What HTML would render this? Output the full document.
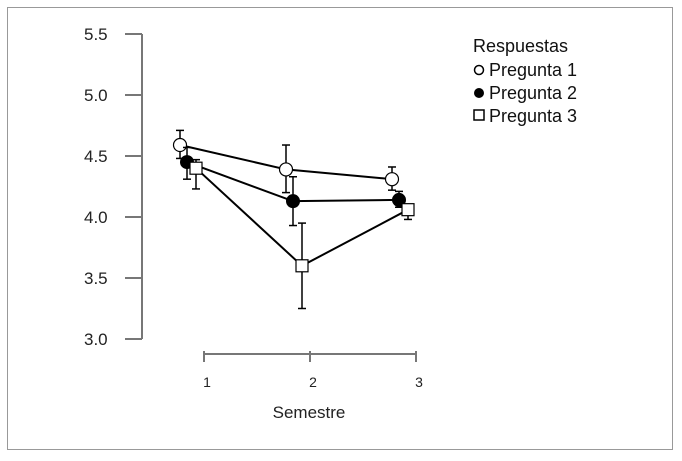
<!DOCTYPE html>
<html><head><meta charset="utf-8"><style>
body{margin:0;background:#fff;width:682px;height:456px;overflow:hidden;font-family:"Liberation Sans",sans-serif}
</style></head><body>
<svg width="682" height="456" viewBox="0 0 682 456">
<rect x="7.5" y="7.5" width="665" height="442" fill="#fff" stroke="#999"/>
<g id="yaxis"></g>
<g id="xaxis"></g>
<g id="series"></g>
<text x="309" y="418" font-size="17" text-anchor="middle" fill="#222">Semestre</text>
<g font-size="18" fill="#111">
<text x="473" y="52">Respuestas</text>
<g><circle cx="479" cy="70" r="4.5" fill="#fff" stroke="#000" stroke-width="1.5"/><text x="489" y="76">Pregunta 1</text></g>
<g><circle cx="479" cy="93" r="5" fill="#000"/><text x="489" y="99">Pregunta 2</text></g>
<g><rect x="474" y="110" width="10" height="10" fill="#fff" stroke="#000" stroke-width="1.5"/><text x="489" y="122">Pregunta 3</text></g>
</g>
</svg>
<script>
const categories=[1,2,3];
const yTicks=["3.0","3.5","4.0","4.5","5.0","5.5"];
const p1=[4.59,4.39,4.31];
const p1Lo=[4.48,4.20,4.22];
const p1Hi=[4.71,4.59,4.41];
const p2=[4.45,4.13,4.14];
const p2Lo=[4.31,3.93,4.08];
const p2Hi=[4.57,4.33,4.21];
const p3=[4.40,3.60,4.06];
const p3Lo=[4.23,3.25,3.98];
const p3Hi=[4.47,3.95,4.10];
const NS="http://www.w3.org/2000/svg";
function y(v){return 339-(v-3)*122;}
function x(c){return 204+(c-1)*106;}
function mk(t,a,p){const e=document.createElementNS(NS,t);for(const k in a)e.setAttribute(k,a[k]);p.appendChild(e);return e;}
const ya=document.getElementById('yaxis');
mk('line',{x1:142,y1:y(5.5),x2:142,y2:y(3),stroke:'#777','stroke-width':2},ya);
yTicks.forEach(t=>{const v=parseFloat(t);
mk('line',{x1:125,y1:y(v),x2:142,y2:y(v),stroke:'#777','stroke-width':2},ya);
const tx=mk('text',{x:84,y:y(v)+6,'font-size':17,fill:'#222'},ya);tx.textContent=t;

});
const xa=document.getElementById('xaxis');
mk('line',{x1:x(1),y1:354,x2:x(3),y2:354,stroke:'#777','stroke-width':2},xa);
categories.forEach(c=>{mk('line',{x1:x(c),y1:351,x2:x(c),y2:362,stroke:'#777','stroke-width':2},xa);
const tx=mk('text',{x:x(c)+3,y:387,'font-size':14,'text-anchor':'middle',fill:'#222'},xa);tx.textContent=c;

});
const sg=document.getElementById('series');
const S=[{v:p1,lo:p1Lo,hi:p1Hi,off:-24,shape:'o'},{v:p2,lo:p2Lo,hi:p2Hi,off:-17,shape:'f'},{v:p3,lo:p3Lo,hi:p3Hi,off:-8,shape:'s'}];
S.forEach((s,i)=>{const g=mk('g',{},sg);


const pts=categories.map((c,j)=>(x(c)+s.off)+','+y(s.v[j])).join(' ');
mk('polyline',{points:pts,fill:'none',stroke:'#000','stroke-width':2},g);
categories.forEach((c,j)=>{const cx=x(c)+s.off;
mk('line',{x1:cx,y1:y(s.hi[j]),x2:cx,y2:y(s.lo[j]),stroke:'#000','stroke-width':1.5},g);
mk('line',{x1:cx-4,y1:y(s.hi[j]),x2:cx+4,y2:y(s.hi[j]),stroke:'#000','stroke-width':1.5},g);
mk('line',{x1:cx-4,y1:y(s.lo[j]),x2:cx+4,y2:y(s.lo[j]),stroke:'#000','stroke-width':1.5},g);});
categories.forEach((c,j)=>{const cx=x(c)+s.off,cy=y(s.v[j]);let m;
if(s.shape==='o')m=mk('circle',{cx:cx,cy:cy,r:6.5,fill:'#fff',stroke:'#000','stroke-width':1.2},g);
else if(s.shape==='f')m=mk('circle',{cx:cx,cy:cy,r:7,fill:'#000'},g);
else m=mk('rect',{x:cx-6,y:cy-6,width:12,height:12,fill:'#fff',stroke:'#000','stroke-width':1.2},g);

});
});
</script>
</body></html>
